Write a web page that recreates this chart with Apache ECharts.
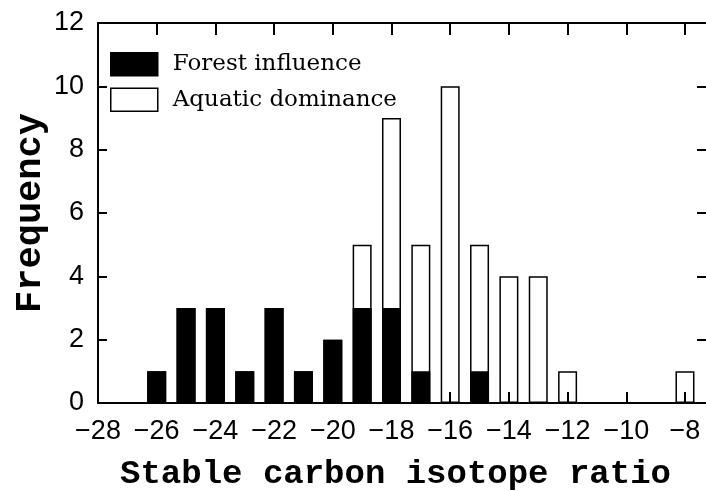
<!DOCTYPE html>
<html>
<head>
<meta charset="utf-8">
<script src="https://cdn.jsdelivr.net/npm/echarts@6/dist/echarts.min.js"></script>
<style>
  html, body { margin: 0; padding: 0; background: #fff; }
  #chart { width: 706px; height: 491px; }
</style>
</head>
<body>
<div id="chart"></div>
<script>
// bin centres (stable carbon isotope ratio, 1-unit bins)
const binCenters = [-26, -25, -24, -23, -22, -21, -20, -19, -18, -17, -16, -15, -14, -13, -12, -11, -10, -9, -8]
const forestCounts = [1, 3, 3, 1, 3, 1, 2, 3, 3, 1, 0, 1, 0, 0, 0, 0, 0, 0, 0]
// bar tops (forest + aquatic)
const totalCounts = [1, 3, 3, 1, 3, 1, 2, 5, 9, 5, 10, 5, 4, 4, 1, 0, 0, 0, 1]
const yTicks = [0, 2, 4, 6, 8, 10, 12]

const chart = echarts.init(document.getElementById('chart'))

const toData = counts => binCenters.map((x, i) => [x, counts[i] > 0 ? counts[i] : null])
const minusFmt = v => (Math.abs(v - Math.round(v)) > 1e-6 ? '' : (v < 0 ? '\u2212' + (-v) : String(v)))

const xRange = { min: -28, max: -7.25, interval: 2 }
const line = { show: true, onZero: false, lineStyle: { color: '#000', width: 2 } }
const tick = len => ({ show: true, inside: true, length: len, lineStyle: { color: '#000', width: 2 } })

chart.setOption({
  animation: false,
  backgroundColor: '#fff',
  grid: { left: 98, top: 23, right: -1, bottom: 88, containLabel: false, outerBoundsMode: 'none' },
  legend: {
    orient: 'vertical',
    left: 110,
    top: 52,
    padding: 0,
    itemWidth: 47,
    itemHeight: 23,
    itemGap: 11,
    icon: 'rect',
    textStyle: {
      fontFamily: 'DejaVu Serif',
      fontSize: 23,
      color: '#000',
      padding: [0, 0, 0, 10],
    },
    data: [
      { name: 'Forest influence', itemStyle: { color: '#000', borderColor: '#000', borderWidth: 1.5 } },
      { name: 'Aquatic dominance', itemStyle: { color: '#fff', borderColor: '#000', borderWidth: 1.5 } },
    ],
  },
  xAxis: [
    {
      type: 'value',
      ...xRange,
      position: 'bottom',
      name: 'Stable carbon isotope ratio',
      nameLocation: 'middle',
      nameGap: 54,
      nameMoveOverlap: false,
      nameTextStyle: {
        fontFamily: 'Liberation Mono',
        fontWeight: 'bold',
        fontSize: 34,
        color: '#000',
        padding: [0, 14, 0, 0],
      },
      axisLine: line,
      axisTick: tick(11),
      axisLabel: {
        formatter: minusFmt,
        showMaxLabel: false,
        margin: 15,
        fontFamily: 'Liberation Sans',
        fontSize: 27,
        color: '#000',
      },
      splitLine: { show: false },
    },
    {
      type: 'value',
      ...xRange,
      position: 'top',
      axisLine: line,
      axisTick: tick(12),
      axisLabel: { show: false },
      splitLine: { show: false },
    },
  ],
  yAxis: [
    {
      type: 'value',
      min: yTicks[0],
      max: yTicks[yTicks.length - 1],
      interval: 2,
      position: 'left',
      name: 'Frequency',
      nameLocation: 'middle',
      nameGap: 49,
      nameMoveOverlap: false,
      nameTextStyle: { fontFamily: 'Liberation Mono', fontWeight: 'bold', fontSize: 37, color: '#000' },
      axisLine: line,
      axisTick: tick(9),
      axisLabel: { margin: 14, fontFamily: 'Liberation Sans', fontSize: 27, color: '#000' },
      splitLine: { show: false },
    },
    {
      type: 'value',
      min: yTicks[0],
      max: yTicks[yTicks.length - 1],
      interval: 2,
      position: 'right',
      axisLine: line,
      axisTick: tick(10),
      axisLabel: { show: false },
      splitLine: { show: false },
    },
  ],
  series: [
    {
      // drawn first: full bar height, outlined only
      name: 'Aquatic dominance',
      type: 'bar',
      barWidth: 19,
      barGap: '-100%',
      data: toData(totalCounts),
      itemStyle: { color: 'rgba(255,255,255,0)', borderColor: '#000', borderWidth: 1.5 },
    },
    {
      name: 'Forest influence',
      type: 'bar',
      barWidth: 19,
      barGap: '-100%',
      data: toData(forestCounts),
      itemStyle: { color: '#000', borderColor: '#000', borderWidth: 1.5 },
    },
  ],
})
</script>
</body>
</html>
